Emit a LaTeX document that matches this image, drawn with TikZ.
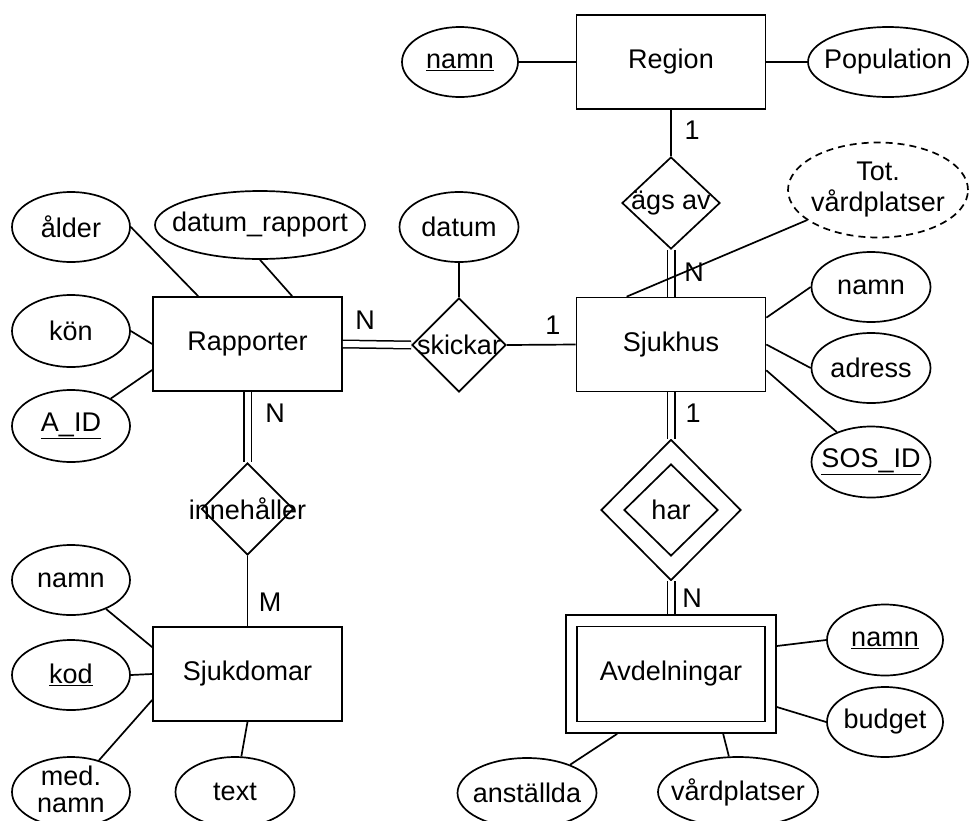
\documentclass[tikz,border=0pt]{standalone}
\usepackage{fontspec}
\setmainfont{Liberation Sans}
\usetikzlibrary{shapes.geometric}
\begin{document}
\begin{tikzpicture}[x=1pt,y=-1pt,
  every node/.style={font=\fontsize{27}{30}\selectfont},
  ln/.style={line width=1.7pt, draw=black},
  dbl/.style={line width=1.5pt, double, double distance=6pt},
  ent/.style={draw, line width=1.7pt, rectangle, minimum width=189pt, minimum height=94pt, inner sep=0pt},
  attr/.style={draw, line width=1.7pt, ellipse, inner sep=0pt, minimum width=118pt, minimum height=70pt},
  rel/.style={draw, line width=1.7pt, diamond, inner sep=0pt},
  card/.style={inner sep=0pt}
]
\useasboundingbox (0,0) rectangle (969,820);
\fill[white] (0,0) rectangle (969,820);
\clip (0,0) rectangle (969,820);

% entities
\node[ent] (region) at (671,62) {Region};
\node[ent] (sjuk) at (671,344.5) {Sjukhus};
\node[ent] (rap) at (247.5,344) {Rapporter};
\node[ent] (sjd) at (247.5,674) {Sjukdomar};
\node[ent, minimum width=210pt, minimum height=118pt] (avd) at (671,674) {Avdelningar};
\node[draw, line width=1.7pt, rectangle, inner sep=0pt, minimum width=188pt, minimum height=95pt] (avdin) at (671,674) {};

% relationships
\node[rel, minimum width=98pt, minimum height=92pt, label=center:ägs av] (ags) at (671,203) {};
\node[rel, minimum width=94pt, minimum height=94pt, label=center:skickar] (skick) at (459,345) {};
\node[rel, minimum width=92pt, minimum height=92pt, label=center:innehåller] (inne) at (247.5,509) {};
\node[rel, minimum width=140pt, minimum height=141pt] (har) at (671,510) {};
\node[rel, minimum width=94pt, minimum height=92pt, label=center:har] (harin) at (671,510) {};

% attributes
\node[attr, minimum width=116pt, label={center:\underline{namn}}] (rnamn) at (460,62) {};
\node[attr, minimum width=160pt, label=center:Population] (pop) at (888,62) {};
\node[attr, dash pattern=on 7pt off 5pt, minimum width=180pt, minimum height=95pt, label={[align=center, font=\fontsize{27}{31}\selectfont]center:Tot.\\vårdplatser}] (tot) at (878,190) {};
\node[attr, minimum width=119pt, label=center:namn] (snamn) at (871,287) {};
\node[attr, minimum width=119pt, label=center:adress] (adress) at (871,368) {};
\node[attr, minimum width=119pt, minimum height=71pt, label={center:\underline{SOS\_ID}}] (sos) at (871,462) {};
\node[attr, minimum width=116pt, minimum height=71pt, label={center:\underline{namn}}] (anamn) at (885,640) {};
\node[attr, minimum width=116pt, label=center:budget] (budget) at (885,722) {};
\node[attr, minimum width=139pt, label=center:anställda] (anst) at (527,793) {};
\node[attr, minimum width=160pt, label=center:vårdplatser] (vard) at (738,792) {};
\node[attr, label=center:ålder] (alder) at (71,227) {};
\node[attr, minimum width=210pt, minimum height=68pt, label=center:datum\_rapport] (drap) at (260,225) {};
\node[attr, minimum width=119pt, label=center:datum] (datum) at (459,227) {};
\node[attr, minimum height=72pt, label=center:kön] (kon) at (71,331) {};
\node[attr, minimum height=72pt, label={center:\underline{A\_ID}}] (aid) at (71,426) {};
\node[attr, label=center:namn] (snm) at (71,580) {};
\node[attr, label={center:\underline{kod}}] (kod) at (71,675) {};
\node[attr, label={[align=center, font=\fontsize{27}{27}\selectfont, yshift=3pt]center:med.\\namn}] (med) at (71,792) {};
\node[attr, minimum width=119pt, label=center:text] (txt) at (235,792) {};

% cardinalities
\node[card] (c1) at (692,130) {1};
\node[card] (c2) at (694,272) {N};
\node[card] (c3) at (693,413) {1};
\node[card] (c4) at (692,598) {N};
\node[card] (c5) at (365,320) {N};
\node[card] (c6) at (553,325) {1};
\node[card] (c7) at (275,413) {N};
\node[card] (c8) at (270,602) {M};

% connectors
\draw[ln] (rnamn) -- (region);
\draw[ln] (region) -- (pop);
\draw[ln] (region.south) -- (ags.north);
\draw[dbl] (ags.south) -- (sjuk.north);
\draw[ln] ([xshift=51pt]sjuk.north west) -- (tot);
\draw[ln] ([yshift=-21pt]sjuk.north east) -- (snamn.west);
\draw[ln] (sjuk.east) -- (adress.west);
\draw[ln] ([yshift=22pt]sjuk.south east) -- (sos);
\draw[dbl] (sjuk.south) -- (har.north);
\draw[dbl] (har.south) -- (avd.north);
\draw[ln] ([yshift=28pt]avd.east) -- (anamn.west);
\draw[ln] ([yshift=-33pt]avd.east) -- (budget.west);
\draw[ln] ([xshift=52pt]avd.south west) -- (anst);
\draw[ln] ([xshift=158pt]avd.south west) -- (vard);

\draw[ln] (alder.east) -- ([xshift=46pt]rap.north west);
\draw[ln] (drap.south) -- ([xshift=140pt]rap.north west);
\draw[ln] (kon.east) -- (rap.west);
\draw[ln] (aid) -- ([yshift=-26pt]rap.west);
\draw[dbl] (rap.east) -- (skick.west);
\draw[ln] (skick.east) -- (sjuk.west);
\draw[ln] (datum.south) -- (skick.north);
\draw[dbl] (rap.south) -- (inne.north);
\draw[ln] (inne.south) -- (sjd.north);
\draw[ln] (snm) -- ([yshift=-21pt]sjd.north west);
\draw[ln] (kod.east) -- (sjd.west);
\draw[ln] (med) -- ([yshift=-26pt]sjd.west);
\draw[ln] (txt) -- (sjd.south);
\end{tikzpicture}
\end{document}
